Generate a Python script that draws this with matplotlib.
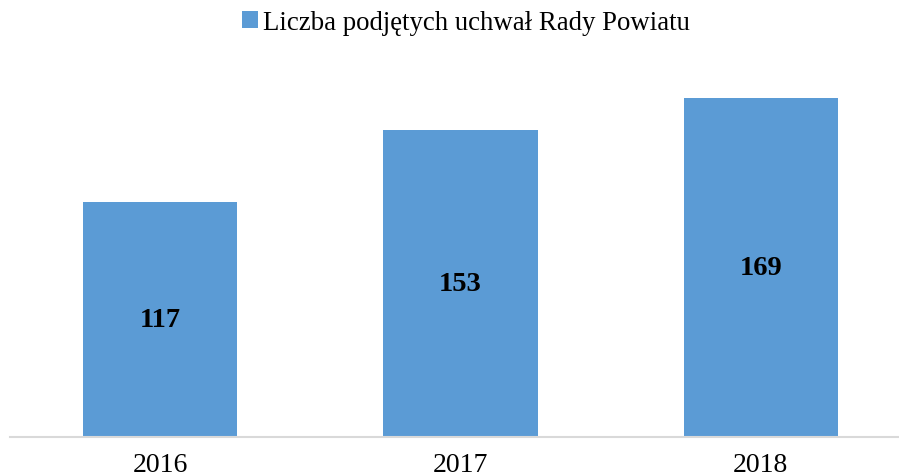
import matplotlib
matplotlib.use("Agg")
import matplotlib.pyplot as plt

categories = ["2016", "2017", "2018"]
values = [117, 153, 169]
series_name = "Liczba podjętych uchwał Rady Powiatu"

plt.rcParams['font.family'] = ['Liberation Serif', 'DejaVu Serif']

W, H = 899, 477
fig = plt.figure(figsize=(W/100, H/100), dpi=100)
bottom_px = 438
top_px = 77
ax = fig.add_axes([10/W, (H-bottom_px)/H, (W-10)/W, (bottom_px-top_px)/H])

color = "#5B9BD5"
x = list(range(len(categories)))
bars = ax.bar(x, values, width=0.513, color=color, label=series_name, zorder=2)
ax.set_xlim(-0.5, 2.46)
ax.set_ylim(0, 180)

for b, v in zip(bars, values):
    ax.text(b.get_x() + b.get_width()/2, v/2, str(v), ha='center', va='center',
            fontsize=20.5, fontweight='bold', color='black')

for s in ['top', 'right', 'left']:
    ax.spines[s].set_visible(False)
ax.spines['bottom'].set_color('#D9D9D9')
ax.spines['bottom'].set_linewidth(1.5)
ax.set_yticks([])
ax.set_xticks(x)
ax.set_xticklabels(categories, fontsize=20)
ax.tick_params(axis='x', length=0, pad=11)

fig.legend(handles=[bars], labels=[series_name], loc='center',
           bbox_to_anchor=(466/W, 1 - 23/H), frameon=False, fontsize=19.3,
           handlelength=0.6, handleheight=0.6, handletextpad=0.2)

fig.savefig("out.png", dpi=100)
